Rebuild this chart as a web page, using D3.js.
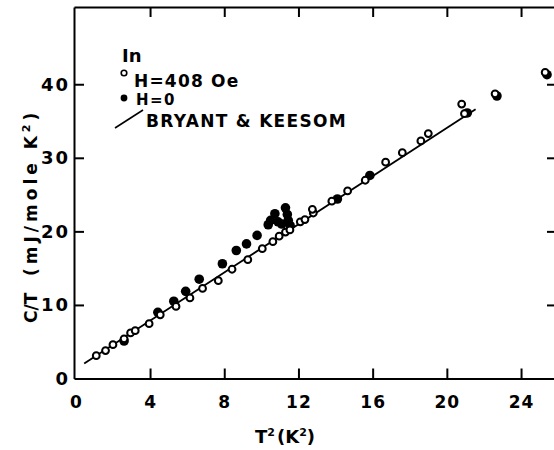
<!DOCTYPE html>
<html>
<head>
<meta charset="utf-8">
<script src="https://cdn.jsdelivr.net/npm/d3@7"></script>
<style>
  html, body { margin: 0; padding: 0; background: #fff; }
  svg { display: block; }
  text { font-family: "DejaVu Sans", sans-serif; font-weight: bold; fill: #000; }
</style>
</head>
<body>
<svg id="chart" width="554" height="450"></svg>
<script>
// Indium specific heat, C/T versus T^2
// H = 408 Oe (normal state) - open circles
const openT2 = [1.1, 1.6, 2.0, 2.6, 2.95, 3.2, 3.95, 4.55, 5.4, 6.15, 6.83, 7.68, 8.42, 9.27,
  10.05, 10.62, 10.96, 11.3, 11.54, 12.1, 12.35, 12.8, 12.75, 13.8, 14.65, 15.6, 16.7, 17.6,
  18.6, 19.0, 20.8, 20.95, 22.6, 25.3];
const openCT = [3.1, 3.8, 4.6, 5.4, 6.2, 6.5, 7.45, 8.65, 9.8, 10.95, 12.25, 13.3, 14.85, 16.15,
  17.65, 18.6, 19.35, 19.9, 20.2, 21.3, 21.6, 22.5, 23.0, 24.1, 25.5, 26.95, 29.4, 30.7,
  32.3, 33.3, 37.3, 36.0, 38.7, 41.6];

// H = 0 - filled circles
const filledT2 = [2.6, 4.42, 5.28, 5.92, 6.65, 7.9, 8.65, 9.2, 9.77, 10.37, 10.5, 10.73, 10.9,
  11.1, 11.3, 11.4, 11.45, 11.55, 14.1, 15.85, 21.1, 22.7, 25.4];
const filledCT = [5.1, 9.0, 10.5, 11.85, 13.5, 15.6, 17.4, 18.3, 19.45, 20.9, 21.5, 22.4, 21.3,
  21.0, 23.2, 22.3, 21.5, 20.8, 24.4, 27.6, 36.1, 38.4, 41.3];

// Bryant & Keesom line, end points
const lineT2 = [0.45, 21.55];
const lineCT = [2.05, 36.6];

const xTicks = [0, 4, 8, 12, 16, 20, 24];
const xTickLabels = ["0", "4", "8", "12", "16", "20", "24"];
const yTicks = [0, 10, 20, 30, 40];
const yTickLabels = ["0", "10", "20", "30", "40"];

const svg = d3.select("#chart");

const x = d3.scaleLinear().domain([-0.1, 26.1]).range([74, 560]);
const y = d3.scaleLinear().domain([0, 50.5]).range([378.5, 7]);

const frame = svg.append("g");

// bottom axis, ticks pointing inward
const xAxis = d3.axisBottom(x)
  .tickValues(xTicks)
  .tickFormat((d, i) => xTickLabels[i])
  .tickSizeInner(-10).tickSizeOuter(0).tickPadding(17);
const gx = frame.append("g").attr("transform", `translate(0,${y(0)})`).call(xAxis);
gx.selectAll("text").style("font-size", "17px").attr("letter-spacing", "1px");

// left axis, ticks pointing inward
const yAxis = d3.axisLeft(y)
  .tickValues(yTicks)
  .tickFormat((d, i) => yTickLabels[i])
  .tickSizeInner(-10).tickSizeOuter(0).tickPadding(4);
const gy = frame.append("g").attr("transform", `translate(${x.range()[0]},0)`).call(yAxis);
gy.selectAll("text").style("font-size", "18px").attr("letter-spacing", "2px");

// top and right axes, ticks only
frame.append("g").attr("transform", `translate(0,${y.range()[1]})`)
  .call(d3.axisTop(x).tickValues(xTicks.slice(1)).tickFormat("").tickSizeInner(-10).tickSizeOuter(0));
frame.append("g").attr("transform", `translate(${x.range()[1]},0)`)
  .call(d3.axisRight(y).tickValues(yTicks.slice(1)).tickFormat("").tickSizeInner(-13).tickSizeOuter(0));

frame.selectAll(".domain").attr("stroke", "#000").attr("stroke-width", 2);
frame.selectAll(".tick line").attr("stroke", "#000").attr("stroke-width", 2);
// the zero ticks coincide with the axis lines
gx.selectAll(".tick").filter(d => d === 0).select("line").remove();
gy.selectAll(".tick").filter(d => d === 0).select("line").remove();

// axis titles
svg.append("text")
  .attr("x", 255).attr("y", 443)
  .style("font-size", "18px")
  .html('T<tspan dy="-7" style="font-size:11px">2</tspan><tspan dy="7" dx="2">(K</tspan><tspan dy="-7" style="font-size:11px">2</tspan><tspan dy="7">)</tspan>');

const yt = svg.append("g").attr("transform", "translate(37,323) rotate(-90)");
yt.append("text").attr("x", 0).attr("y", 0).style("font-size", "17px").text("C/T");
yt.append("text").attr("x", 47).attr("y", 0).style("font-size", "17px")
  .attr("letter-spacing", "4px")
  .html('(mJ/mole K<tspan dy="-7" style="font-size:11px">2</tspan><tspan dy="7">)</tspan>');

// fit line
svg.append("line")
  .attr("x1", x(lineT2[0])).attr("y1", y(lineCT[0]))
  .attr("x2", x(lineT2[1])).attr("y2", y(lineCT[1]))
  .attr("stroke", "#000").attr("stroke-width", 1.8);

// data points
const filled = filledT2.map((t, i) => [t, filledCT[i]]);
const open = openT2.map((t, i) => [t, openCT[i]]);

svg.append("g").selectAll("circle").data(filled).join("circle")
  .attr("cx", d => x(d[0])).attr("cy", d => y(d[1]))
  .attr("r", 4.8).attr("fill", "#000");

svg.append("g").selectAll("circle").data(open).join("circle")
  .attr("cx", d => x(d[0])).attr("cy", d => y(d[1]))
  .attr("r", 3.4).attr("fill", "#fff").attr("stroke", "#000").attr("stroke-width", 2);

// legend
const lg = svg.append("g");
lg.append("text").attr("x", 122).attr("y", 62).style("font-size", "18px").text("In");
lg.append("circle").attr("cx", 124).attr("cy", 73).attr("r", 2.8)
  .attr("fill", "#fff").attr("stroke", "#000").attr("stroke-width", 1.6);
lg.append("text").attr("x", 134).attr("y", 87).style("font-size", "17px")
  .attr("letter-spacing", "1.2px").text("H=408 Oe");
lg.append("circle").attr("cx", 124).attr("cy", 98).attr("r", 3.4).attr("fill", "#000");
lg.append("text").attr("x", 136).attr("y", 105).style("font-size", "15px")
  .attr("letter-spacing", "1.5px").text("H=0");
lg.append("line").attr("x1", 115).attr("y1", 128).attr("x2", 143).attr("y2", 110)
  .attr("stroke", "#000").attr("stroke-width", 1.6);
lg.append("text").attr("x", 146).attr("y", 127).style("font-size", "17px")
  .attr("letter-spacing", "1.3px").text("BRYANT & KEESOM");
</script>
</body>
</html>
